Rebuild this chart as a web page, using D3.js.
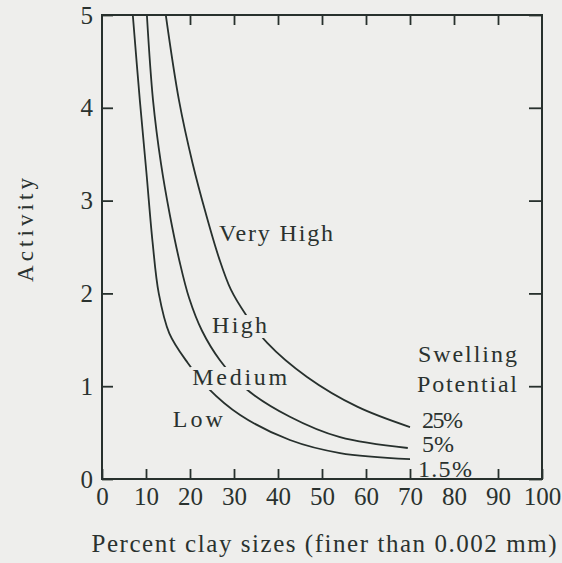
<!DOCTYPE html>
<html>
<head>
<meta charset="utf-8">
<script src="https://cdn.jsdelivr.net/npm/d3@7"></script>
</head>
<body style="margin:0; background:#eeeeec">
<svg id="chart" width="562" height="563" style="display:block"></svg>
<script>
// axis ticks
const xTicks = [0, 10, 20, 30, 40, 50, 60, 70, 80, 90, 100];
const xTopTicks = [20, 30, 40, 50, 60, 70, 80, 90];
const yTicks = [0, 1, 2, 3, 4, 5];

// curves: percent clay vs activity
const lowClay = [7.0, 8.6, 10.1, 11.5, 12.9, 15.3, 19.5, 24.1, 31.4, 42.7, 54.1, 70];
const lowActivity = [5.0, 4.08, 3.3, 2.55, 2.0, 1.57, 1.25, 0.98, 0.69, 0.42, 0.28, 0.215];

const mediumClay = [10.2, 11.6, 13.4, 15.4, 17.6, 19.8, 22.7, 26.8, 32.5, 42.7, 54.1, 69.5];
const mediumActivity = [5.0, 4.08, 3.4, 2.85, 2.35, 1.95, 1.6, 1.28, 0.98, 0.67, 0.45, 0.334];

const highClay = [14.5, 17.5, 20.6, 23.6, 26.6, 29.3, 32.7, 37.5, 46.6, 58, 70];
const highActivity = [5.0, 4.08, 3.4, 2.86, 2.38, 2.04, 1.77, 1.47, 1.1, 0.78, 0.56];

const swellingLabels = ["25%", "5%", "1.5%"];

const svg = d3.select("#chart");
const ink = "#27302d";
const textInk = "#2a322f";
const serif = '"Liberation Serif"';

const x = d3.scaleLinear().domain([0, 100]).range([102, 542]);
const y = d3.scaleLinear().domain([0, 5]).range([479, 15]);

svg.append("defs").append("clipPath").attr("id", "plot")
  .append("rect")
  .attr("x", x(0)).attr("y", y(5))
  .attr("width", x(100) - x(0)).attr("height", y(0) - y(5));

// ticks + tick labels
function styleAxis(g) {
  g.select(".domain").remove();
  g.attr("font-size", null).attr("font-family", null).attr("color", ink);
  g.selectAll("line").attr("stroke-width", 1.8);
  g.selectAll("text")
    .style("font-family", serif)
    .style("font-size", "25px")
    .style("fill", textInk);
}

svg.append("g")
  .attr("transform", `translate(0,${y(0)})`)
  .call(d3.axisBottom(x).tickValues(xTicks).tickFormat(d3.format("d"))
    .tickSize(-10).tickSizeOuter(0).tickPadding(8))
  .call(styleAxis);

svg.append("g")
  .attr("transform", `translate(0,${y(5)})`)
  .call(d3.axisTop(x).tickValues(xTopTicks).tickSize(-10).tickSizeOuter(0).tickFormat(""))
  .call(styleAxis);

svg.append("g")
  .attr("transform", `translate(${x(0)},0)`)
  .call(d3.axisLeft(y).tickValues(yTicks).tickFormat(d3.format("d"))
    .tickSize(-11).tickSizeOuter(0).tickPadding(9))
  .call(styleAxis);

svg.append("g")
  .attr("transform", `translate(${x(100)},0)`)
  .call(d3.axisRight(y).tickValues(yTicks).tickSize(-13).tickSizeOuter(0).tickFormat(""))
  .call(styleAxis);

// curves
const line = d3.line()
  .x(d => x(d[0]))
  .y(d => y(d[1]))
  .curve(d3.curveCatmullRom.alpha(0.5));

const curves = [
  d3.zip(lowClay, lowActivity),
  d3.zip(mediumClay, mediumActivity),
  d3.zip(highClay, highActivity)
];

svg.append("g")
  .attr("clip-path", "url(#plot)")
  .selectAll("path")
  .data(curves)
  .join("path")
  .attr("d", line)
  .attr("fill", "none")
  .attr("stroke", ink)
  .attr("stroke-width", 1.8);

// in-plot labels [text, clay, activity, length, knockout]
const labels = [
  ["Very High", 26.6, 2.565, 114, false],
  ["High", 25.0, 1.573, 55, true],
  ["Medium", 20.5, 1.013, 95, true],
  ["Low", 16.1, 0.56, 50, false],
  ["Swelling", 71.8, 1.261, 99, false],
  ["Potential", 71.6, 0.9375, 100, false],
  [swellingLabels[0], 72.7, 0.55, 41, false],
  [swellingLabels[1], 72.7, 0.291, 32, false],
  [swellingLabels[2], 71.8, 0.022, 54, true]
];

const lab = svg.append("g");

// knock the curves out behind some labels
lab.selectAll("rect")
  .data(labels.filter(d => d[4]))
  .join("rect")
  .attr("x", d => x(d[1]) - 2)
  .attr("y", d => y(d[2]) - 18)
  .attr("width", d => d[3] + 4)
  .attr("height", 23)
  .attr("fill", "#eeeeec");

lab.selectAll("text")
  .data(labels)
  .join("text")
  .attr("x", d => x(d[1]))
  .attr("y", d => y(d[2]))
  .attr("textLength", d => d[3])
  .attr("lengthAdjust", "spacing")
  .style("font-family", serif)
  .style("font-size", "24px")
  .style("fill", textInk)
  .text(d => d[0]);

// frame
svg.append("rect")
  .attr("x", x(0)).attr("y", y(5))
  .attr("width", x(100) - x(0)).attr("height", y(0) - y(5))
  .attr("fill", "none")
  .attr("stroke", ink)
  .attr("stroke-width", 2);

// axis titles
svg.append("text")
  .attr("x", 324)
  .attr("y", 552)
  .attr("text-anchor", "middle")
  .attr("textLength", 465)
  .attr("lengthAdjust", "spacing")
  .style("font-family", serif)
  .style("font-size", "25px")
  .style("fill", textInk)
  .text("Percent clay sizes (finer than 0.002 mm)");

svg.append("text")
  .attr("transform", "translate(33,230) rotate(-90)")
  .attr("text-anchor", "middle")
  .attr("textLength", 104)
  .attr("lengthAdjust", "spacing")
  .style("font-family", serif)
  .style("font-size", "23px")
  .style("fill", textInk)
  .text("Activity");
</script>
</body>
</html>
